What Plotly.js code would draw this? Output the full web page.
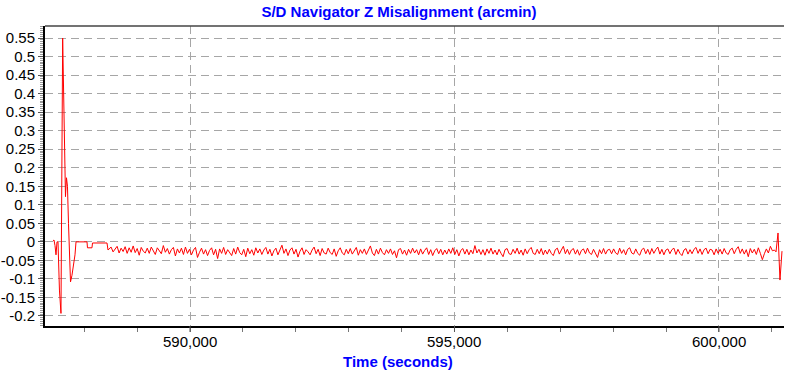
<!DOCTYPE html>
<html><head><meta charset="utf-8">
<script src="https://cdn.plot.ly/plotly-3.0.1.min.js"></script>
<style>html,body{margin:0;padding:0;background:#fff}#chart{width:786px;height:374px}</style>
</head><body><div id="chart"></div>
<script>
const chartTitle = "S/D Navigator Z Misalignment (arcmin)";
const xTitle = "Time (seconds)";

// initial transient (time in seconds, misalignment in arcmin)
const startTimes = [587410, 587429, 587448, 587467, 587486, 587505, 587532, 587561, 587593, 587618, 587646, 587665, 587684, 587703, 587741, 587769, 587807, 587826, 587845, 587920, 587996, 588053, 588062, 588147, 588157, 588431, 588450];
const startValues = [0.003, 0.005, -0.010, -0.035, 0.000, 0.000, -0.130, -0.193, 0.550, 0.330, 0.122, 0.173, 0.150, 0.050, -0.108, -0.090, -0.060, -0.035, 0.000, 0.000, 0.001, 0.000, -0.016, -0.016, -0.003, -0.003, -0.022];

// steady-state samples, one every noiseStep seconds from noiseStart
const noiseStart = 588470;
const noiseStep = 38;
const noiseValues = [
-0.020,-0.014,-0.027,-0.019,-0.012,-0.030,-0.017,-0.026,-0.013,-0.031,
-0.016,-0.028,-0.011,-0.029,-0.018,-0.036,-0.015,-0.025,-0.030,-0.017,
-0.031,-0.014,-0.026,-0.034,-0.016,-0.024,-0.032,-0.010,-0.028,-0.018,
-0.033,-0.021,-0.015,-0.038,-0.019,-0.030,-0.017,-0.034,-0.014,-0.031,
-0.020,-0.035,-0.022,-0.015,-0.042,-0.028,-0.017,-0.033,-0.021,-0.037,
-0.023,-0.016,-0.035,-0.020,-0.045,-0.019,-0.031,-0.015,-0.034,-0.021,
-0.030,-0.037,-0.018,-0.033,-0.014,-0.029,-0.035,-0.020,-0.040,-0.017,
-0.032,-0.021,-0.036,-0.016,-0.030,-0.019,-0.034,-0.022,-0.015,-0.033,
-0.020,-0.038,-0.024,-0.017,-0.035,-0.021,-0.009,-0.031,-0.019,-0.037,
-0.022,-0.016,-0.033,-0.020,-0.041,-0.025,-0.016,-0.034,-0.021,-0.027,
-0.035,-0.022,-0.014,-0.032,-0.020,-0.037,-0.018,-0.030,-0.033,-0.017,
-0.029,-0.034,-0.019,-0.039,-0.024,-0.016,-0.030,-0.035,-0.020,-0.032,
-0.018,-0.033,-0.022,-0.015,-0.036,-0.021,-0.031,-0.019,-0.034,-0.023,
-0.011,-0.030,-0.037,-0.020,-0.033,-0.017,-0.029,-0.035,-0.021,-0.031,
-0.019,-0.034,-0.024,-0.043,-0.021,-0.018,-0.033,-0.022,-0.036,-0.020,
-0.031,-0.017,-0.030,-0.021,-0.035,-0.019,-0.033,-0.023,-0.016,-0.034,
-0.021,-0.037,-0.024,-0.018,-0.032,-0.020,-0.035,-0.022,-0.033,-0.019,
-0.031,-0.016,-0.034,-0.021,-0.038,-0.023,-0.018,-0.033,-0.020,-0.035,
-0.022,-0.032,-0.010,-0.030,-0.020,-0.034,-0.021,-0.036,-0.019,-0.031,
-0.017,-0.033,-0.022,-0.035,-0.020,-0.031,-0.040,-0.021,-0.018,-0.032,
-0.034,-0.020,-0.031,-0.017,-0.033,-0.022,-0.036,-0.019,-0.032,-0.021,
-0.015,-0.031,-0.034,-0.020,-0.032,-0.018,-0.035,-0.022,-0.033,-0.020,
-0.031,-0.037,-0.021,-0.017,-0.033,-0.022,-0.012,-0.032,-0.020,-0.034,
-0.022,-0.018,-0.033,-0.021,-0.036,-0.023,-0.019,-0.032,-0.017,-0.030,
-0.034,-0.020,-0.031,-0.042,-0.021,-0.032,-0.018,-0.033,-0.022,-0.020,
-0.032,-0.019,-0.030,-0.034,-0.017,-0.031,-0.021,-0.035,-0.020,-0.016,
-0.030,-0.033,-0.019,-0.031,-0.036,-0.021,-0.017,-0.032,-0.020,-0.034,
-0.018,-0.031,-0.021,-0.014,-0.033,-0.020,-0.035,-0.022,-0.019,-0.032,
-0.021,-0.017,-0.034,-0.020,-0.031,-0.037,-0.022,-0.018,-0.033,-0.021,
-0.032,-0.020,-0.015,-0.031,-0.019,-0.034,-0.021,-0.017,-0.032,-0.020,
-0.022,-0.035,-0.019,-0.031,-0.020,-0.033,-0.018,-0.030,-0.034,-0.021,
-0.017,-0.032,-0.020,-0.013,-0.031,-0.019,-0.033,-0.021,-0.040,-0.018,
-0.030,-0.020,-0.034,-0.016,-0.031,-0.048,-0.032,-0.019,-0.030,-0.012,
-0.024
];

// final glitch
const endTimes = [601048, 601078, 601116, 601153, 601191];
const endValues = [-0.022, -0.027, 0.024, -0.103, -0.025];

const yTickVals = [-0.2, -0.15, -0.1, -0.05, 0, 0.05, 0.1, 0.15, 0.2, 0.25, 0.3, 0.35, 0.4, 0.45, 0.5, 0.55];
const yTickText = ["-0.2", "-0.15", "-0.1", "-0.05", "0", "0.05", "0.1", "0.15", "0.2", "0.25", "0.3", "0.35", "0.4", "0.45", "0.5", "0.55"];
const xTickVals = [590000, 595000, 600000];
const xTickText = ["590,000", "595,000", "600,000"];

const xs = startTimes.slice();
const ys = startValues.slice();
noiseValues.forEach((v, i) => { xs.push(noiseStart + i * noiseStep); ys.push(v); });
endTimes.forEach((t, i) => { xs.push(t); ys.push(endValues[i]); });

const font = "Liberation Sans, Arial, sans-serif";
const gridStyle = {showgrid: true, gridcolor: "#a6a6a6", gridwidth: 1, griddash: "8px,5px"};

// major x tick marks drawn below the axis line (pixel-sized)
const xTickShapes = xTickVals.map(v => ({
  type: "line", xref: "x", yref: "paper", ysizemode: "pixel", yanchor: 0,
  x0: v, x1: v, y0: 0, y1: -6, line: {color: "#555", width: 1}
}));
// x tick labels placed at the library's x positions
const xTickLabels = xTickVals.map((v, i) => ({
  text: xTickText[i], x: v, xref: "x", y: 0, yref: "paper",
  xanchor: "center", yanchor: "top", yshift: -5, showarrow: false,
  font: {family: font, size: 15, color: "#000"}
}));
const xTitleAnn = {
  text: "<b>" + xTitle + "</b>", x: 0.4777, xref: "paper", y: 0, yref: "paper",
  xanchor: "center", yanchor: "middle", yshift: -35, showarrow: false,
  font: {family: font, size: 15, color: "#0000ff"}
};

const layout = {
  width: 786, height: 374,
  margin: {l: 45, r: 2, t: 26, b: 48},
  paper_bgcolor: "#ffffff", plot_bgcolor: "#ffffff",
  showlegend: false,
  title: {text: "<b>" + chartTitle + "</b>", font: {family: font, size: 15, color: "#0000ff"},
          xref: "container", x: 0.5076, xanchor: "center", yref: "container", y: 0.968, yanchor: "middle"},
  xaxis: Object.assign({
    range: [587259, 601229],
    tickvals: xTickVals, showticklabels: false,
    ticks: "",
    minor: {dtick: 1000, tick0: 590000, ticks: "outside", ticklen: 4, tickcolor: "#777", showgrid: false},
    showline: true, linecolor: "#000", linewidth: 2,
    zeroline: false
  }, gridStyle),
  yaxis: Object.assign({
    range: [-0.227, 0.5825],
    tickvals: yTickVals, ticktext: yTickText,
    ticks: "outside", ticklen: 5, tickcolor: "#555", tickwidth: 1,
    minor: {dtick: 0.005, tick0: 0, ticks: "outside", ticklen: 3, tickcolor: "#999", showgrid: false},
    showline: true, linecolor: "#000", linewidth: 2,
    zeroline: false,
    tickfont: {family: font, size: 15, color: "#000"}
  }, gridStyle),
  shapes: [{type: "line", xref: "paper", yref: "paper", x0: 0, x1: 1, y0: 1, y1: 1, line: {color: "#444", width: 1.5}}].concat(xTickShapes),
  annotations: xTickLabels.concat([xTitleAnn])
};

Plotly.newPlot("chart", [{
  type: "scatter", mode: "lines", x: xs, y: ys,
  line: {color: "#ff0000", width: 1},
  hoverinfo: "skip"
}], layout, {staticPlot: true, displayModeBar: false});
</script>
</body></html>
